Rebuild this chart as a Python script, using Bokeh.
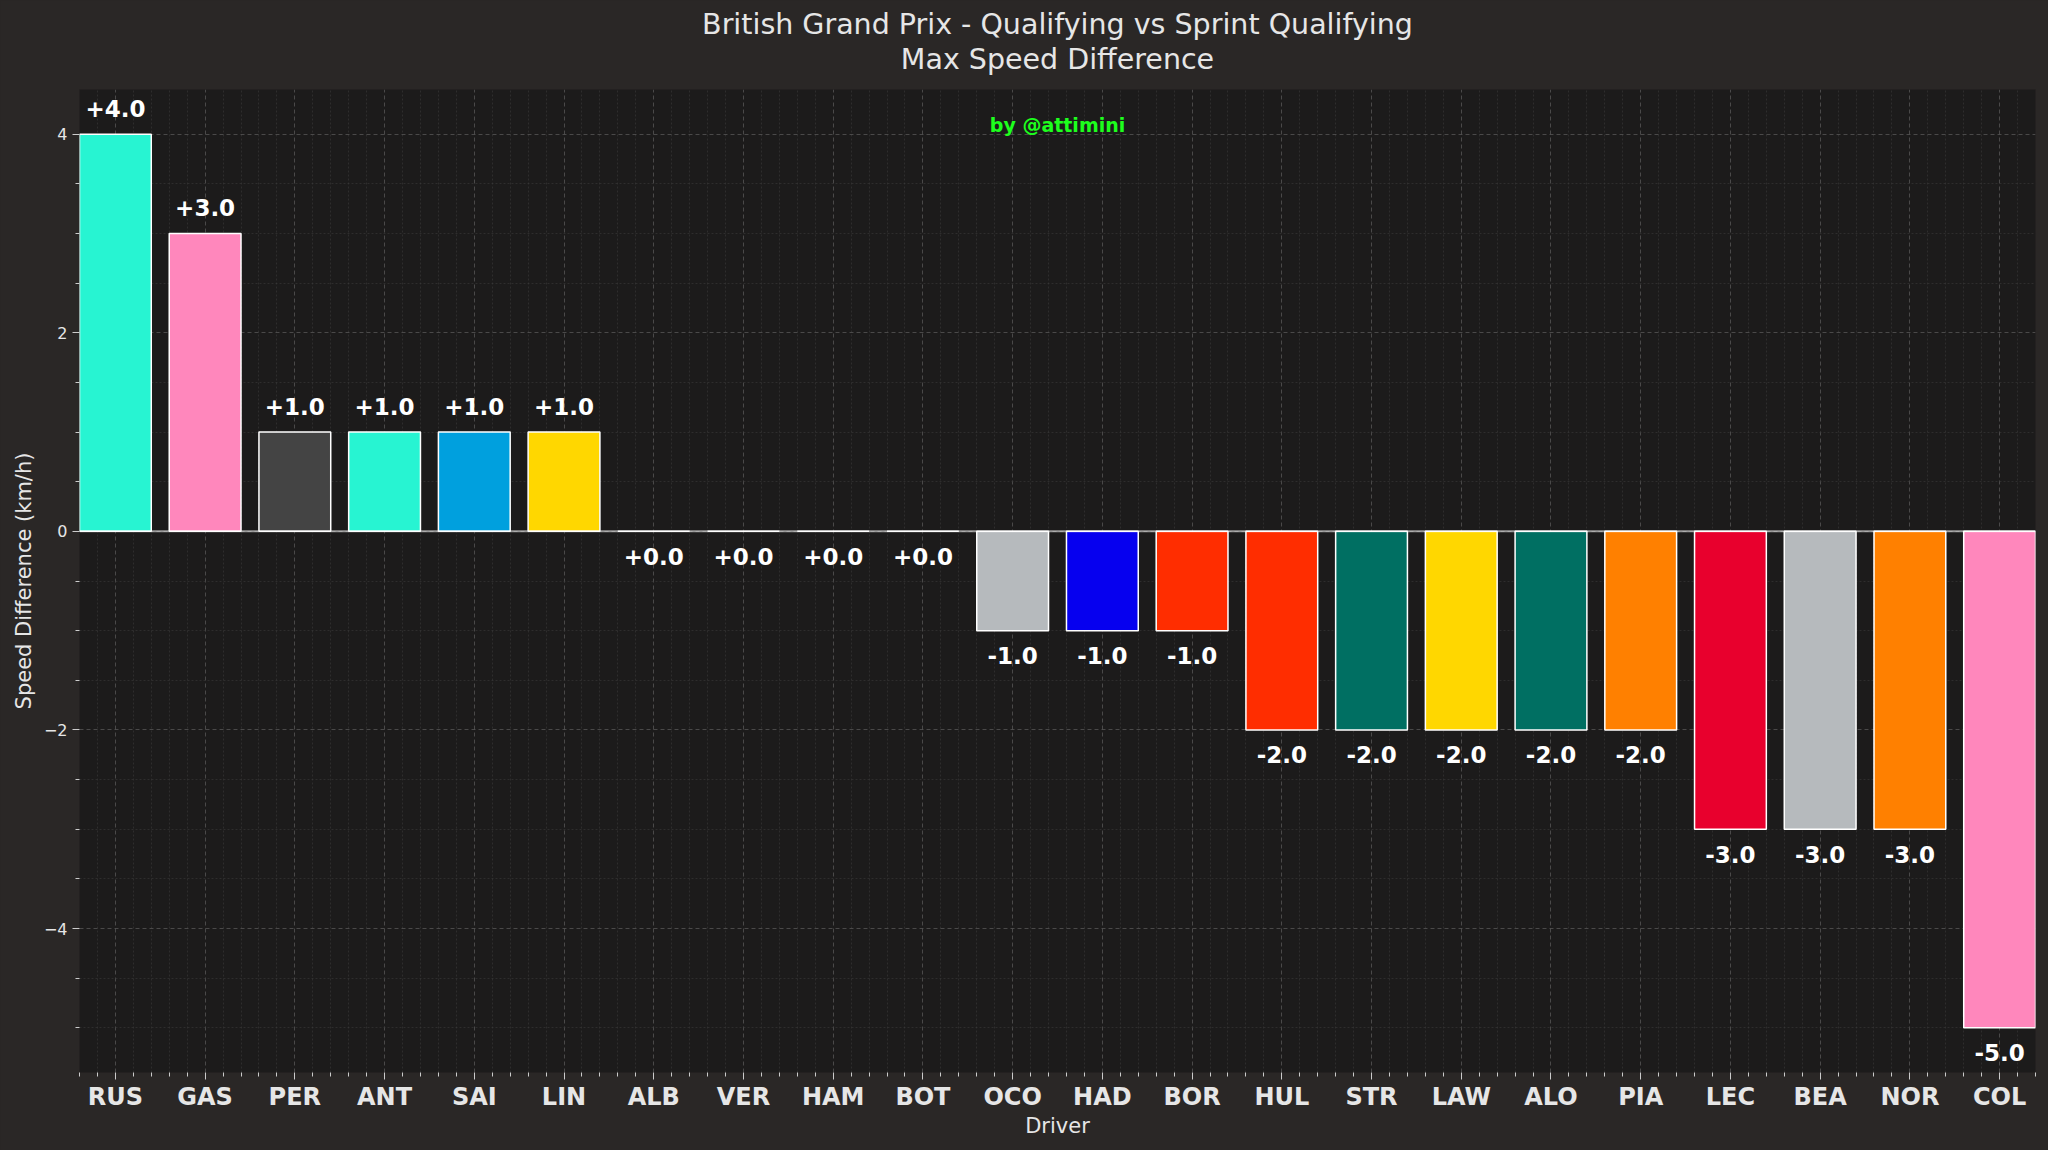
import numpy as np
from bokeh.plotting import figure
from bokeh.models import ColumnDataSource, FixedTicker, Span, Title, Label
from bokeh.embed import file_html
from bokeh.resources import INLINE

drivers = ["RUS", "GAS", "PER", "ANT", "SAI", "LIN", "ALB", "VER", "HAM", "BOT", "OCO",
           "HAD", "BOR", "HUL", "STR", "LAW", "ALO", "PIA", "LEC", "BEA", "NOR", "COL"]
speed_diff = [4.0, 3.0, 1.0, 1.0, 1.0, 1.0, 0.0, 0.0, 0.0, 0.0, -1.0,
              -1.0, -1.0, -2.0, -2.0, -2.0, -2.0, -2.0, -3.0, -3.0, -3.0, -5.0]
team_colors = ["#27F4D2", "#FF87BC", "#444444", "#27F4D2", "#00A0DE", "#FFD700",
               "#005AFF", "#3671C6", "#E8002D", "#52E252", "#B6BABD", "#0600EF",
               "#FF2D00", "#FF2D00", "#006F62", "#FFD700", "#006F62", "#FF8000",
               "#E8002D", "#B6BABD", "#FF8000", "#FF87BC"]
y_ticks = [-4, -2, 0, 2, 4]

FONT = "DejaVu Sans"
OUTER = "#2a2726"
INNER = "#1c1b1b"
TXT = "#e6e6e6"

xs = list(range(len(drivers)))
labels = [f"{v:+.1f}" for v in speed_diff]
label_y = [v + 0.26 if v > 0 else v - 0.25 for v in speed_diff]

src = ColumnDataSource(dict(x=xs, top=speed_diff, color=team_colors,
                            label=labels, ly=label_y))

p = figure(width=2048, height=1150, x_range=(-0.4, len(drivers) - 0.6),
           y_range=(-5.45, 4.45), output_backend="svg", toolbar_location=None,
           min_border_left=79, min_border_right=13, min_border_top=89,
           min_border_bottom=78)
p.title = None
p.background_fill_color = INNER
p.border_fill_color = OUTER
p.outline_line_color = None

# titles
t2 = Title(text="Max Speed Difference", align="center", text_font=FONT,
           text_font_size="28.5px", text_font_style="normal", text_color=TXT,
           standoff=27, offset=0)
t1 = Title(text="British Grand Prix - Qualifying vs Sprint Qualifying", align="center",
           text_font=FONT, text_font_size="28.5px", text_font_style="normal",
           text_color=TXT, standoff=-27, offset=0)
p.add_layout(t2, "above")
p.add_layout(t1, "above")

# axes
minor_x = [round(v, 2) for v in np.arange(-0.4, len(drivers) - 0.5, 0.2)
           if abs(v - round(v)) > 1e-6]
p.xaxis.ticker = FixedTicker(ticks=xs, minor_ticks=minor_x)
p.xaxis.major_label_overrides = {i: d for i, d in enumerate(drivers)}
minor_y = [v for v in np.arange(-5.0, 4.51, 0.5) if abs(v % 2) > 1e-6]
p.yaxis.ticker = FixedTicker(ticks=y_ticks, minor_ticks=minor_y)
p.yaxis.major_label_overrides = {t: (str(t).replace("-", "\u2212")) for t in y_ticks}

for ax in (p.xaxis[0], p.yaxis[0]):
    ax.axis_line_color = None
    ax.major_tick_line_color = "#cccccc"
    ax.minor_tick_line_color = "#cccccc"
    ax.major_tick_out = 7
    ax.major_tick_in = 0
    ax.minor_tick_out = 4
    ax.minor_tick_in = 0
    ax.major_label_text_color = TXT
    ax.major_label_text_font = FONT
    ax.axis_label_text_color = TXT
    ax.axis_label_text_font = FONT
    ax.axis_label_text_font_style = "normal"
    ax.axis_label_text_font_size = "21px"

p.xaxis.axis_label = "Driver"
p.xaxis.major_label_text_font_size = "24px"
p.xaxis.major_label_text_font_style = "bold"
p.xaxis.major_label_standoff = 3
p.xaxis.axis_label_standoff = 0
p.yaxis.axis_label = "Speed Difference (km/h)"
p.yaxis.major_label_text_font_size = "16px"
p.yaxis.major_label_standoff = 5
p.yaxis.axis_label_standoff = 5

# grid
for g in (p.xgrid[0], p.ygrid[0]):
    g.grid_line_color = "#5a5a5a"
    g.grid_line_alpha = 0.75
    g.grid_line_dash = "4 3"
    g.grid_line_width = 1
    g.minor_grid_line_color = "#3a3a3a"
    g.minor_grid_line_alpha = 0.6
    g.minor_grid_line_dash = "2 2"
    g.minor_grid_line_width = 1

p.add_layout(Span(location=0, dimension="width", line_color="#ffffff",
                  line_alpha=0.55, line_width=2))

p.vbar(x="x", top="top", bottom=0, width=0.8, fill_color="color",
       line_color="#ffffff", line_width=1.5, source=src)

p.text(x="x", y="ly", text="label", source=src, text_align="center",
       text_baseline="middle", text_color="#ffffff", text_font_size="23px",
       text_font_style="bold", text_font={"value": FONT})

p.add_layout(Label(x=(len(drivers) - 1) / 2, y=4.09, text="by @attimini",
                   text_align="center", text_baseline="middle",
                   text_color="#1dff1d", text_font=FONT, text_font_size="19px",
                   text_font_style="bold"))

html = file_html(p, INLINE, title="British Grand Prix")
html = html.replace("<head>", "<head><style>html,body{background:%s;margin:0;padding:0;}</style>" % OUTER, 1)
open("out.html", "w").write(html)
